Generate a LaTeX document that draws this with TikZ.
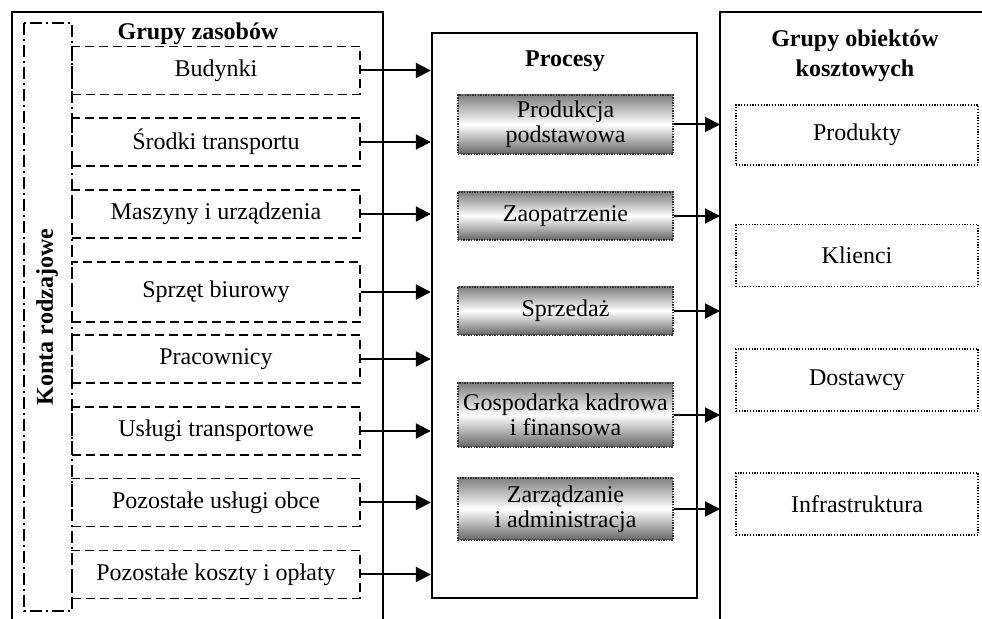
\documentclass[tikz,border=0pt]{standalone}
\usepackage{fontspec}
\setmainfont{Liberation Serif}
\usetikzlibrary{arrows.meta, positioning}

\begin{document}
\begin{tikzpicture}[x=0.5pt, y=-0.5pt,
      font=\fontsize{12}{12.5}\selectfont,
      FR/.style = {draw, line width=1.2pt},
      ZB/.style = {draw, line width=0.7pt, dash pattern=on 4.5pt off 2.5pt,
                   minimum width=144pt, minimum height=24pt, inner sep=0pt},
      PB/.style = {draw=black!80, line width=0.8pt, dash pattern=on 0.7pt off 0.6pt,
                   top color=black!50, bottom color=black!60, middle color=white,
                   minimum width=107.5pt, minimum height=24pt, inner sep=1pt, align=center},
      OB/.style = {draw, line width=0.7pt, dash pattern=on 0.6pt off 0.8pt,
                   minimum width=121pt, minimum height=31pt},
      AR/.style = {line width=1pt, -{Triangle[length=7.5pt, width=7.5pt]}},
      TT/.style = {font=\fontsize{12}{15}\selectfont\bfseries, align=center} ]

\useasboundingbox (0,0) rectangle (982,619);

% ramki
\draw[FR] (12,619) -- (12,12) -- (383,12) -- (383,619);
\draw[FR] (720,619) -- (720,12) -- (982,12);
\coordinate (obiekty) at (720,12);
\draw[line width=0.7pt, dash pattern=on 6pt off 2pt on 1pt off 2pt] (24,23) rectangle (72,611);
\node[TT, rotate=90] (konta) at (47,317) {Konta rodzajowe};

% zasoby
\node[TT] (zasoby) at (198,34) {Grupy zasobów};
\node[ZB] (b1) at (216,70.5) {Budynki};
\node[ZB] (b2) at (216,142) {Środki transportu};
\node[ZB] (b3) at (216,214) {Maszyny i urządzenia};
\node[ZB, minimum height=30pt] (b4) at (216,292) {Sprzęt biurowy};
\node[ZB] (b5) at (216,359) {Pracownicy};
\node[ZB] (b6) at (216,431) {Usługi transportowe};
\node[ZB] (b7) at (216,502.5) {Pozostałe usługi obce};
\node[ZB] (b8) at (216,574.5) {Pozostałe koszty i opłaty};

% procesy
\node[FR, minimum width=132.5pt, minimum height=282.5pt] (procesy) at (564.5,315.5) {};
\node[TT] (proc) at (565,61) {Procesy};
\node[PB, minimum height=29.5pt] (p1) at (565.5,124.5) {Produkcja\\podstawowa};
\node[PB] (p2) at (565.5,216) {Zaopatrzenie};
\node[PB] (p3) at (565.5,311) {Sprzedaż};
\node[PB, minimum height=32pt] (p4) at (565.5,415) {Gospodarka kadrowa\\i finansowa};
\node[PB, minimum height=31pt] (p5) at (565.5,509) {Zarządzanie\\i administracja};

% obiekty kosztowe
\node[TT] (obtyt) at (855,56) {Grupy obiektów\\kosztowych};
\node[OB, minimum height=30pt] (o1) at (857,135) {Produkty};
\node[OB] (o2) at (857,255.5) {Klienci};
\node[OB] (o3) at (857,380) {Dostawcy};
\node[OB] (o4) at (857,504) {Infrastruktura};

\foreach \i in {1,...,8}
   \draw[AR] (b\i.east) -- (b\i.east -| procesy.west);
\foreach \i in {1,...,5}
   \draw[AR] (p\i.east) -- (p\i.east -| obiekty);
\end{tikzpicture}
\end{document}
